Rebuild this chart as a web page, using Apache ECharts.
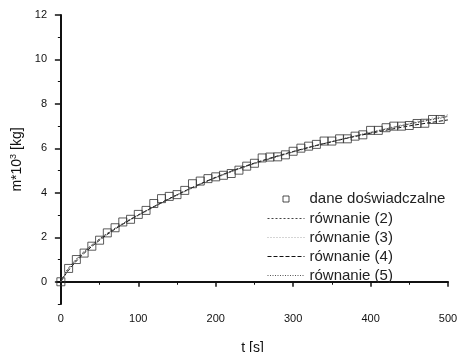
<!DOCTYPE html>
<html><head><meta charset="utf-8">
<script src="https://cdn.jsdelivr.net/npm/echarts@6/dist/echarts.min.js"></script>
<style>html,body{margin:0;padding:0;background:#fff}#c{width:457px;height:352px}</style>
</head><body><div id="c"></div>
<script>
const tData = [0,10,20,30,40,50,60,70,80,90,100,110,120,130,140,150,160,170,180,190,200,210,220,230,240,250,260,270,280,290,300,310,320,330,340,350,360,370,380,390,400,410,420,430,440,450,460,470,480,490];
const mData = [0.00,0.60,1.00,1.29,1.60,1.87,2.20,2.43,2.69,2.81,3.03,3.21,3.52,3.74,3.84,3.92,4.11,4.41,4.53,4.64,4.72,4.79,4.87,5.02,5.20,5.33,5.57,5.61,5.62,5.71,5.87,6.01,6.10,6.18,6.33,6.33,6.43,6.43,6.55,6.61,6.81,6.81,6.93,7.00,7.00,7.03,7.12,7.13,7.30,7.30];
const tFit = [0,5,10,20,30,40,50,60,70,80,90,100,120,140,160,180,200,225,250,275,300,325,350,375,400,425,450,475,500];
const eq2 = [0,0.35,0.62,1.02,1.36,1.66,1.93,2.18,2.41,2.62,2.82,3.01,3.38,3.74,4.08,4.40,4.69,5.02,5.32,5.59,5.84,6.08,6.30,6.51,6.71,6.91,7.10,7.28,7.46];
const eq3 = [0,0.30,0.56,0.97,1.31,1.61,1.88,2.13,2.36,2.58,2.78,2.97,3.35,3.71,4.05,4.37,4.66,5.00,5.30,5.57,5.83,6.07,6.30,6.52,6.73,6.94,7.14,7.33,7.52];
const eq4 = [0,0.28,0.52,0.93,1.28,1.59,1.87,2.13,2.37,2.59,2.80,3.00,3.38,3.74,4.08,4.40,4.70,5.04,5.34,5.61,5.86,6.09,6.30,6.50,6.68,6.85,7.01,7.15,7.28];
const eq5 = [0,0.33,0.60,1.00,1.34,1.64,1.91,2.16,2.39,2.60,2.80,2.99,3.36,3.72,4.06,4.38,4.68,5.02,5.32,5.59,5.85,6.09,6.31,6.52,6.72,6.91,7.09,7.26,7.42];
const xMajor = [0,100,200,300,400,500];
const xMinor = [50,150,250,350,450];
const yMajor = [0,2,4,6,8,10,12];
const yMinor = [-1,1,3,5,7,9,11];
const seriesNames = ['dane doświadczalne','równanie (2)','równanie (3)','równanie (4)','równanie (5)'];
const lineColors = ['#444','#aaa','#111','#555'];
const lineDashes = [[2,2],[1,2],[4,2],[1,1.5]];

const pairs = (xs, ys) => xs.map((x,i)=>[x, ys[i]]);
const FONT = 'Liberation Sans, Arial, sans-serif';
const chart = echarts.init(document.getElementById('c'), null, {renderer:'canvas'});
const baseX = {type:'value', min:-5, max:500, splitLine:{show:false}};
const baseY = {type:'value', min:-1, max:12, splitLine:{show:false}};
function fitLine(i, data){
  return {name:seriesNames[i+1], type:'line', data:data, symbol:'none', showSymbol:false, smooth:0.3,
    itemStyle:{color:lineColors[i]}, lineStyle:{color:lineColors[i], width:1, type:lineDashes[i]}};
}
function lineLegend(i){
  return {name:seriesNames[i+1], icon:'path://M0,0M37,14M0,7H37',
    itemStyle:{color:'transparent', borderColor:lineColors[i], borderWidth:1, borderType:lineDashes[i]}};
}
chart.setOption({
  animation:false,
  backgroundColor:'#fff',
  grid:{left:57, right:9, top:15, bottom:48, containLabel:false, outerBoundsMode:'none'},
  legend:{
    orient:'vertical', left:267, top:190, itemWidth:37, itemHeight:17, itemGap:2, padding:0,
    textStyle:{fontFamily:FONT, fontSize:15, lineHeight:17, color:'#222'},
    data:[
      {name:seriesNames[0], icon:'path://M0,0M37,17M15.5,5.5H21.5V11.5H15.5Z', itemStyle:{color:'transparent', borderColor:'#222', borderWidth:1}},
      lineLegend(0), lineLegend(1), lineLegend(2), lineLegend(3)
    ]
  },
  xAxis:[
    Object.assign({}, baseX, {
      name:'t [s]', nameLocation:'middle', nameGap:37,
      nameTextStyle:{fontFamily:FONT, fontSize:14, color:'#111'},
      axisLine:{lineStyle:{color:'#111', width:2}},
      axisTick:{customValues:xMajor, length:5, inside:false, lineStyle:{color:'#111', width:1.5}},
      axisLabel:{customValues:xMajor, margin:9, fontFamily:FONT, fontSize:11, color:'#111'}
    }),
    Object.assign({}, baseX, {
      position:'bottom',
      axisLine:{show:false},
      axisTick:{customValues:xMinor, length:3, lineStyle:{color:'#111', width:1}},
      axisLabel:{show:false}
    })
  ],
  yAxis:[
    Object.assign({}, baseY, {
      name:'m*10{sup|3} [kg]', nameLocation:'middle', nameGap:27,
      nameTextStyle:{fontFamily:FONT, fontSize:14, color:'#111', rich:{sup:{fontFamily:FONT, fontSize:9, verticalAlign:'top', padding:[0,0,6,0]}}},
      axisLine:{lineStyle:{color:'#111', width:2}},
      axisTick:{customValues:yMajor, length:6, lineStyle:{color:'#111', width:1.5}},
      axisLabel:{customValues:yMajor, margin:10, fontFamily:FONT, fontSize:11, color:'#111'}
    }),
    Object.assign({}, baseY, {
      position:'left',
      axisLine:{show:false},
      axisTick:{customValues:yMinor, length:3, lineStyle:{color:'#111', width:1}},
      axisLabel:{show:false}
    })
  ],
  series:[
    {name:seriesNames[0], type:'scatter', data:pairs(tData,mData), symbol:'rect', symbolSize:8, z:3,
     itemStyle:{color:'transparent', borderColor:'#333', borderWidth:1}},
    fitLine(0, pairs(tFit,eq2)),
    fitLine(1, pairs(tFit,eq3)),
    fitLine(2, pairs(tFit,eq4)),
    fitLine(3, pairs(tFit,eq5))
  ]
});
</script></body></html>
